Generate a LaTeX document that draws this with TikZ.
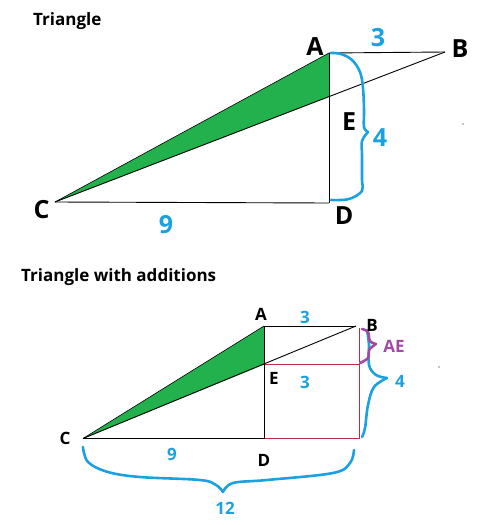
\documentclass[tikz,border=0pt]{standalone}
\usepackage{fontspec}
\setmainfont{Open Sans}
\definecolor{pblue}{HTML}{1BA1E2}
\definecolor{ppurple}{HTML}{A349A4}
\definecolor{pgreen}{HTML}{22B14C}
\definecolor{pred}{RGB}{190,45,65}
\tikzset{
  lbl/.style={inner sep=0pt, anchor=base, font=\bfseries\fontsize{25}{25}\selectfont},
  lbls/.style={inner sep=0pt, anchor=base, font=\bfseries\fontsize{17}{17}\selectfont},
  title/.style={inner sep=0pt, anchor=base west, font=\bfseries\fontsize{17}{17}\selectfont},
  edge/.style={black, line width=0.9pt},
  brace/.style={pblue, line width=2.6pt, line cap=round, line join=round},
  pbrace/.style={ppurple, line width=2.6pt, line cap=round, line join=round},
  redline/.style={pred, line width=1pt},
}
\begin{document}
\begin{tikzpicture}[x=1pt,y=-1pt]
\useasboundingbox (0,0) rectangle (496,525);
% ---------- top figure ----------
\coordinate (A1) at (329,53);
\coordinate (B1) at (445,52);
\coordinate (C1) at (55,202);
\coordinate (D1) at (329,203);
\coordinate (E1) at (329,96.6);
\fill[pgreen] (C1) -- (A1) -- (E1) -- cycle;
\draw[edge] (A1) -- (B1);
\draw[edge] (C1) -- (B1);
\draw[edge] (A1) -- (D1);
\draw[edge] (C1) -- (D1);
\draw[edge, line width=0.6pt] (C1) -- (A1);
\draw[brace] plot[smooth, tension=0.6] coordinates {(331,53) (341,54) (352,60) (360,72) (363,88) (364,110) (364,127) (368,132)};
\draw[brace] plot[smooth, tension=0.6] coordinates {(368,132) (362,141) (362,155) (362,180) (362,191) (349,199) (331,200)};
\node[title] (t1) at (33,25) {Triangle};
\node[lbl] (lA1) at (315,55) {A};
\node[lbl] (lB1) at (460,57) {B};
\node[lbl] (lC1) at (41.5,218) {C};
\node[lbl] (lD1) at (344,224) {D};
\node[lbl] (lE1) at (349,130) {E};
\node[lbl, pblue] (l31) at (378,46) {3};
\node[lbl, pblue] (l41) at (380,146) {4};
\node[lbl, pblue] (l91) at (166,233) {9};
\fill[black] (463,124) circle (0.6);
% ---------- bottom figure ----------
\coordinate (A2) at (264,326);
\coordinate (B2) at (356,326);
\coordinate (C2) at (83,438.5);
\coordinate (D2) at (264,438.5);
\coordinate (E2) at (264,364.6);
\coordinate (F2) at (359,364.6);
\coordinate (G2) at (359,438.5);
\coordinate (H2) at (359,328);
\fill[pgreen] (C2) -- (A2) -- (E2) -- cycle;
\draw[redline] (E2) -- (F2);
\draw[redline] (H2) -- (G2);
\draw[redline] (D2) -- (G2);
\draw[edge] (A2) -- (B2);
\draw[edge] (C2) -- (B2);
\draw[edge] (A2) -- (D2);
\draw[edge] (C2) -- (D2);
\draw[edge, line width=0.6pt] (C2) -- (A2);
% right blue brace
\draw[brace] plot[smooth, tension=0.6] coordinates {(367,330) (369,345) (369,365) (376,375) (387,378)};
\draw[brace] plot[smooth, tension=0.6] coordinates {(387,378) (374,387) (368,405) (365,428) (362,437)};
% purple brace
\draw[pbrace] plot[smooth, tension=0.6] coordinates {(362,329) (368,332) (370,341) (376,344)};
\draw[pbrace] plot[smooth, tension=0.6] coordinates {(376,344) (369,350) (368,358) (360,363)};
% bottom blue brace
\draw[brace] plot[smooth, tension=0.6] coordinates {(83,447) (88,462) (108,472) (140,477) (200,480) (216,485) (223,492)};
\draw[brace] plot[smooth, tension=0.6] coordinates {(223,492) (233,483) (267,480) (333,473) (350,463) (354,450)};
\node[title] (t2) at (21,281) {Triangle with additions};
\node[lbls] (lA2) at (261,320) {A};
\node[lbls] (lB2) at (372,331) {B};
\node[lbls] (lC2) at (65,444) {C};
\node[lbls] (lD2) at (264,466) {D};
\node[lbls] (lE2) at (274,384) {E};
\node[lbls, pblue] (l32) at (305,323) {3};
\node[lbls, pblue] (l33) at (305,388) {3};
\node[lbls, pblue] (l42) at (400,387) {4};
\node[lbls, pblue] (l92) at (172,460) {9};
\node[lbls, pblue] (l12) at (225,514) {12};
\node[lbls, ppurple] (lAE) at (394,352) {AE};
\fill[black] (439,367) circle (0.6);
\end{tikzpicture}
\end{document}
